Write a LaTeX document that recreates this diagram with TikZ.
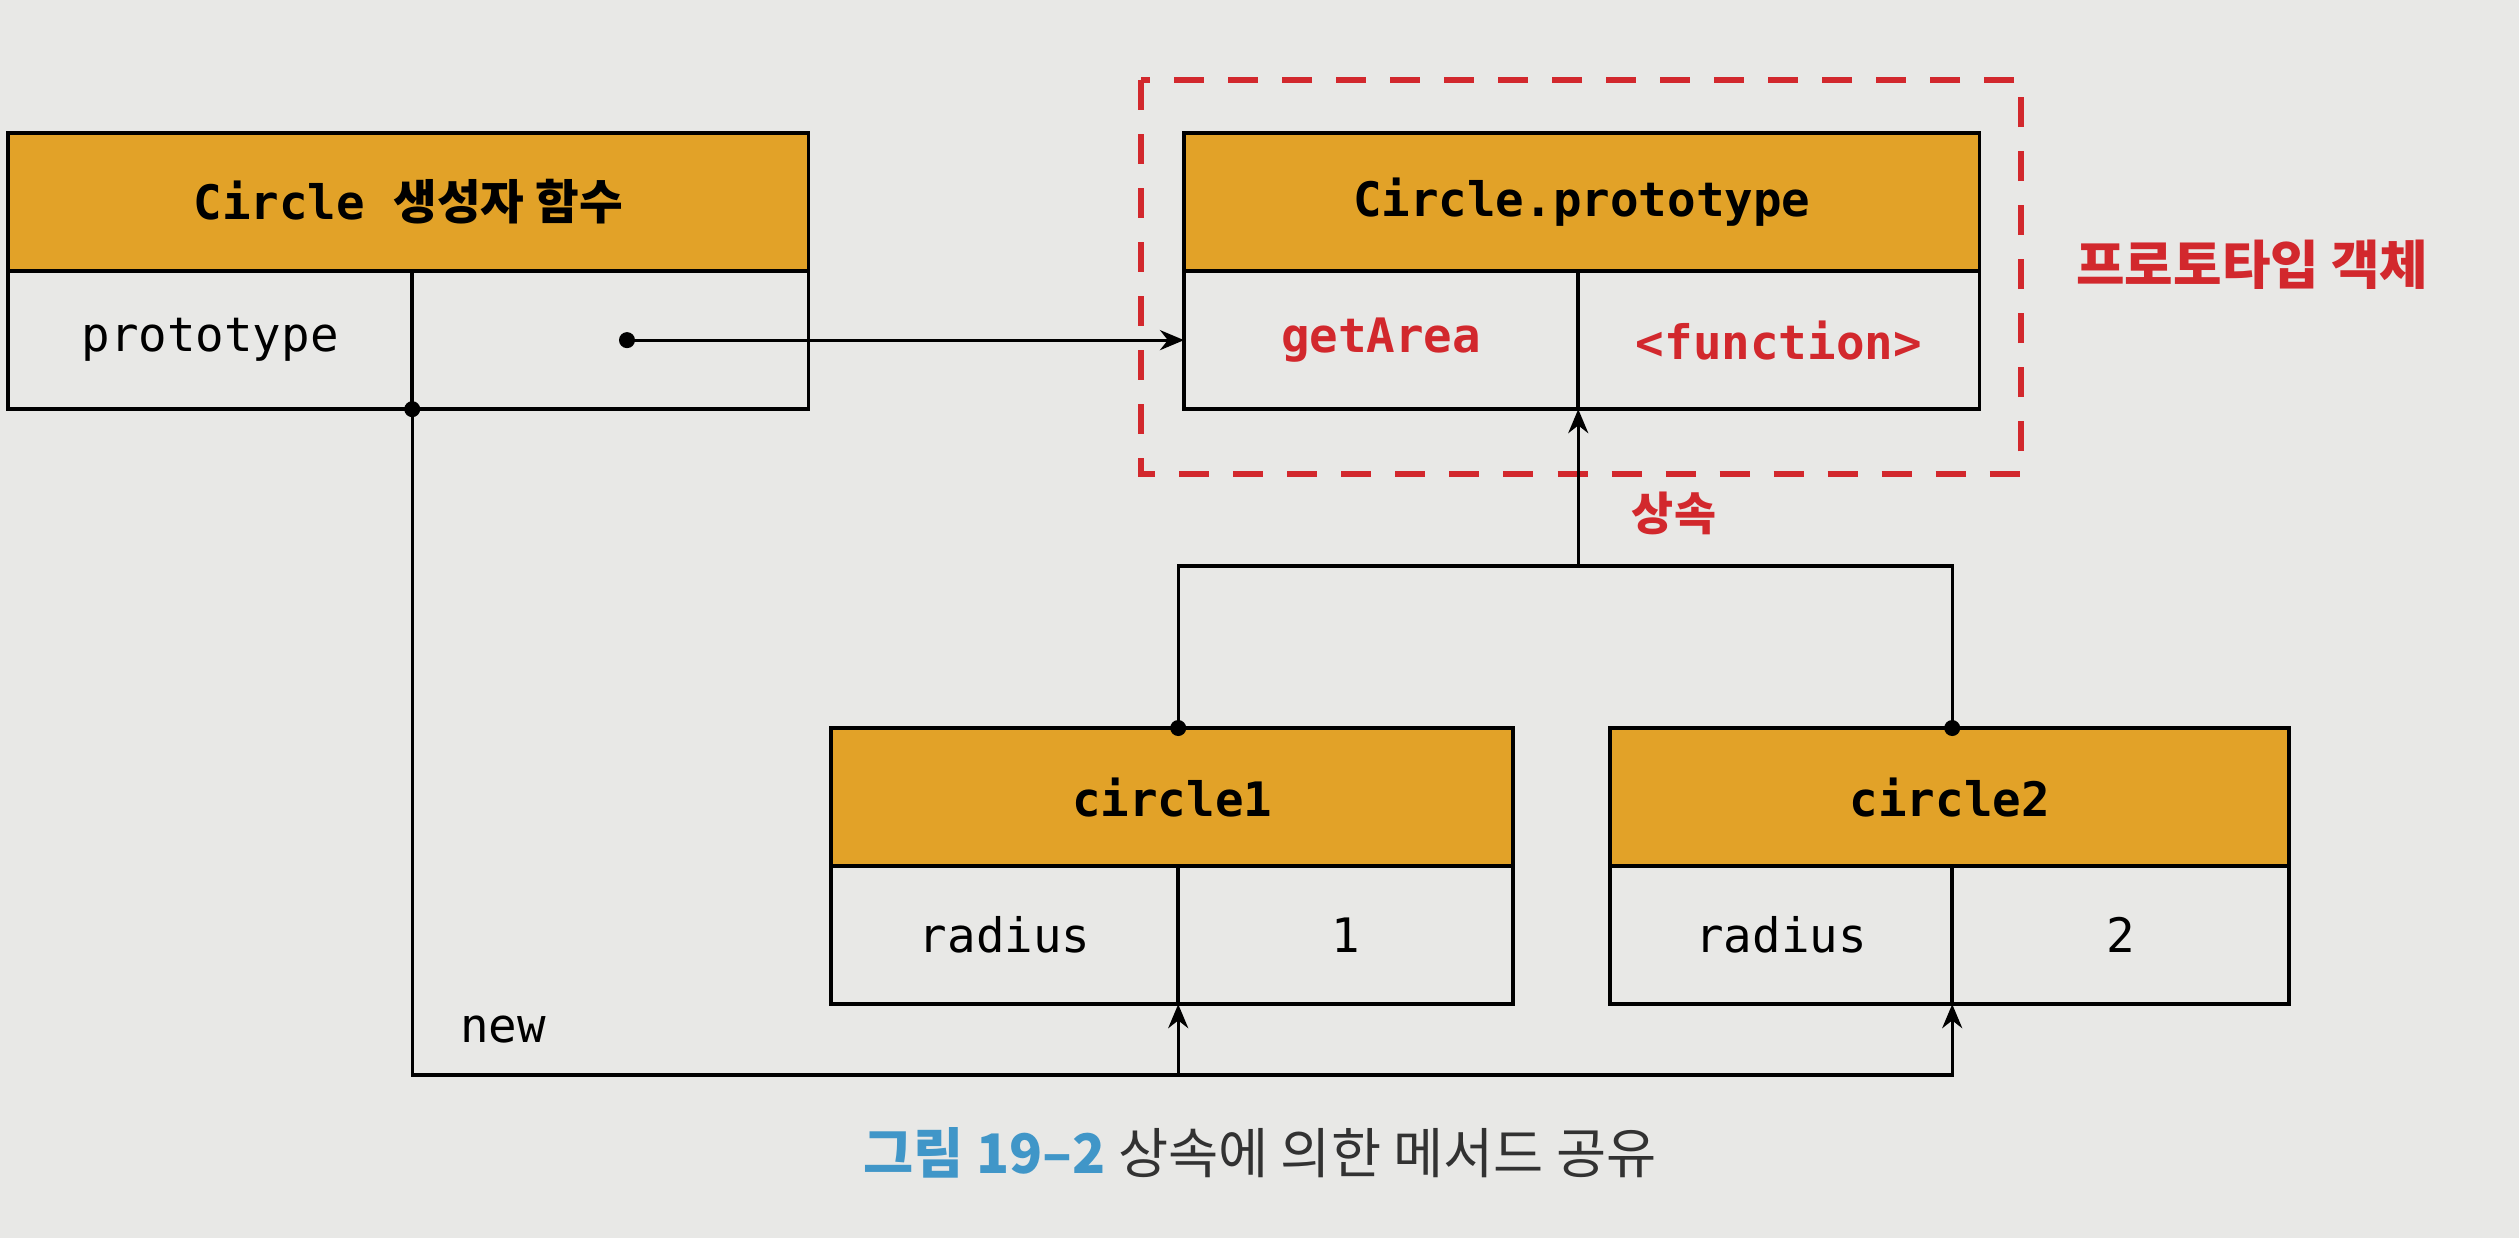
\documentclass[tikz,border=0pt]{standalone}
\usepackage{fontspec}
\setmainfont{Noto Sans CJK KR}
\setmonofont{DejaVu Sans Mono}
\newfontfamily\krfont{Noto Sans CJK KR}
\usetikzlibrary{arrows.meta,calc}
\definecolor{hdrfill}{RGB}{226,162,40}
\definecolor{redtxt}{RGB}{210,40,45}
\definecolor{captblue}{RGB}{64,150,200}
\definecolor{captgray}{RGB}{50,50,50}
\definecolor{bggray}{RGB}{232,232,230}
\newcommand{\kr}[1]{{\krfont #1}}

\tikzset{
	hdr/.style={draw, line width=1.1pt, fill=hdrfill, inner sep=0pt, outer sep=0pt, minimum height=1.38cm, font=\fontsize{13.5}{16}\selectfont\ttfamily\bfseries},
	cell/.style={draw, line width=1.1pt, inner sep=0pt, outer sep=0pt, minimum height=1.38cm, font=\fontsize{13.5}{16}\selectfont\ttfamily},
	redcell/.style={cell, text=redtxt, font=\fontsize{13.5}{16}\selectfont\ttfamily\bfseries},
	conn/.style={line width=0.9pt},
	arr/.style={conn, -{Stealth[length=0.24cm,width=0.2cm]}},
	dashbox/.style={draw=redtxt, line width=1.7pt, dash pattern=on 0.3cm off 0.24cm},
	redlbl/.style={text=redtxt, font=\fontsize{15}{18}\selectfont\krfont\bfseries},
}

\begin{document}
\begin{tikzpicture}[x=0.01cm, y=-0.01cm]
		%%%%% START %%%%%
		\fill[bggray] (0,0) rectangle (2519,1238);
		
		% Circle constructor
		\node[hdr, minimum width=8cm, anchor=north west] (ctorhead) at (8,133) {Circle \kr{생성자 함수}};
		\node[cell, minimum width=4.04cm, anchor=north west] (ctorkey) at (ctorhead.south west) {prototype};
		\node[cell, minimum width=3.96cm, anchor=north west] (ctorval) at (ctorkey.north east) {};
		
		% Circle.prototype
		\node[hdr, minimum width=7.95cm, anchor=north west] (protohead) at (1184,133) {Circle.prototype};
		\node[redcell, minimum width=3.94cm, anchor=north west] (protokey) at (protohead.south west) {getArea};
		\node[redcell, minimum width=4.01cm, anchor=north west] (protoval) at (protokey.north east) {<function>};
		\draw[dashbox] (1141,80) rectangle (2021,474);
		\node[redlbl, anchor=west] (protolbl) at (2064,265) {프로토타입 객체};
		
		% circle1, circle2
		\node[hdr, minimum width=6.82cm, anchor=north west] (c1head) at (831,728) {circle1};
		\node[cell, minimum width=3.47cm, anchor=north west] (c1key) at (c1head.south west) {radius};
		\node[cell, minimum width=3.35cm, anchor=north west] (c1val) at (c1key.north east) {1};
		\node[hdr, minimum width=6.79cm, anchor=north west] (c2head) at (1610,728) {circle2};
		\node[cell, minimum width=3.42cm, anchor=north west] (c2key) at (c2head.south west) {radius};
		\node[cell, minimum width=3.37cm, anchor=north west] (c2val) at (c2key.north east) {2};
		
		% prototype link
		\coordinate (ptr) at (627,0 |- protokey.west);
		\fill (ptr) circle[radius=0.08cm];
		\draw[arr] (ptr) -- (protokey.west);
		
		% inheritance
		\coordinate (inh) at (protokey.south east |- 0,566);
		\draw[conn] (c1key.east |- c1head.north) |- (inh) -| (c2key.east |- c2head.north);
		\fill (c1key.east |- c1head.north) circle[radius=0.08cm];
		\fill (c2key.east |- c2head.north) circle[radius=0.08cm];
		\draw[arr] (inh) -- (protokey.south east);
		\node[redlbl, font=\fontsize{13}{16}\selectfont\krfont\bfseries] (inhlbl) at (1674,513) {상속};
		
		% new
		\coordinate (newbase) at (ctorkey.south east |- 0,1075);
		\fill (ctorkey.south east) circle[radius=0.08cm];
		\draw[arr] (ctorkey.south east) -- (newbase) -| (c2key.south east);
		\draw[arr] (c1key.south east |- newbase) -- (c1key.south east);
		\node[font=\fontsize{13.5}{16}\selectfont\ttfamily] (newlbl) at (503,1030) {new};
		
		% caption
		\node[font=\fontsize{15.5}{18}\selectfont] (caption) at (1260,1153) {\textcolor{captblue}{\bfseries 그림 19–2}\ \textcolor{captgray}{상속에 의한 메서드 공유}};
		%%%%% END %%%%%
\end{tikzpicture}
\end{document}
